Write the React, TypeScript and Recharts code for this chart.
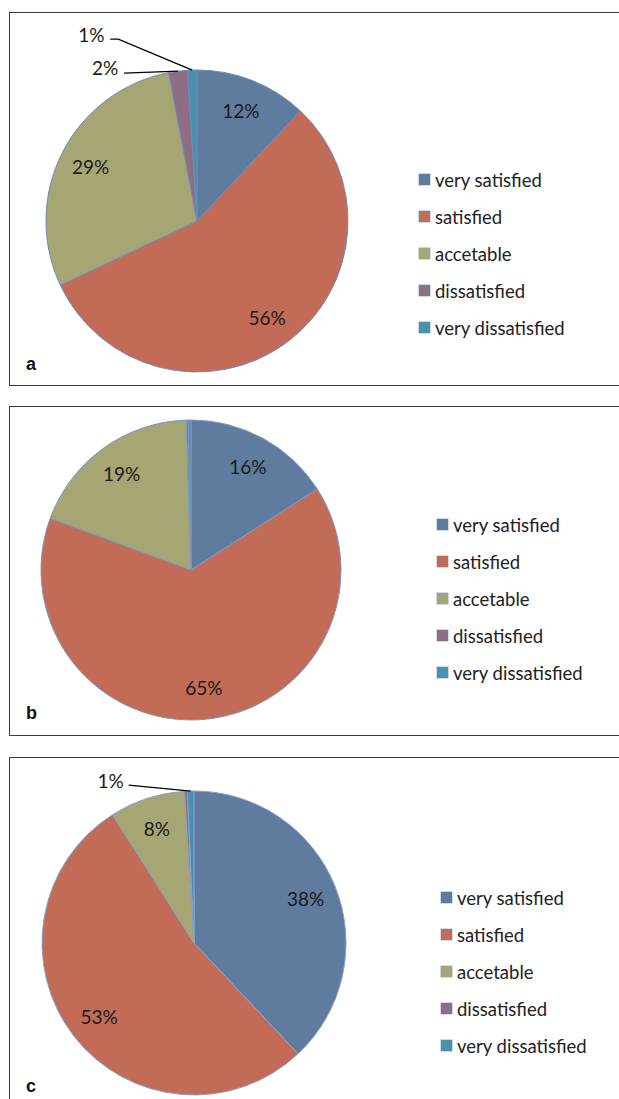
import React from "react";
import { PieChart, Pie, Cell, Legend } from "recharts";

const categories = [
  "very satisfied",
  "satisfied",
  "accetable",
  "dissatisfied",
  "very dissatisfied",
];
const colors = ["#5f7b9e", "#c26b57", "#a5a673", "#8f6d82", "#4a91b0"];

const valuesA = [12, 56, 29, 2, 1];
const labelsA = ["12%", "56%", "29%", "2%", "1%"];

const valuesB = [16, 65, 19, 0.2, 0.3];
const labelsB = ["16%", "65%", "19%", "", ""];

const valuesC = [38, 53, 8, 0.3, 0.7];
const labelsC = ["38%", "53%", "8%", "", "1%"];

const RAD = Math.PI / 180;
const FONT = "Lato, 'Noto Sans', sans-serif";

type Callout = { text: [number, number]; line: [number, number][] };

interface PanelProps {
  tag: string;
  top: number;
  height: number;
  boxTop: number;
  boxHeight: number;
  tagY: number;
  cx: number;
  cy: number;
  r: number;
  values: number[];
  labels: string[];
  legendLeft: number;
  legendTop: number;
  stroke: string;
  callouts: Record<number, Callout>;
}

// keep the legend in the category order, not alphabetical
const LegendList = ({ payload }: any) => {
  const items = [...(payload || [])].sort(
    (a: any, b: any) => categories.indexOf(a.value) - categories.indexOf(b.value)
  );
  return (
    <div style={{ fontFamily: FONT, fontSize: 18.5, color: "#222" }}>
      {items.map((entry: any, i: number) => (
        <div
          key={i}
          style={{ height: 37, display: "flex", alignItems: "center" }}
        >
          <span
            style={{
              width: 11,
              height: 11,
              background: entry.color,
              marginRight: 5,
              boxShadow: "0 0 0 0.5px #9fb3d1",
            }}
          />
          <span>{entry.value}</span>
        </div>
      ))}
    </div>
  );
};

const PiePanel = (p: PanelProps) => {
  const data = categories.map((name, i) => ({ name, value: p.values[i] }));

  const renderLabel = (props: any) => {
    const { cx, cy, midAngle, outerRadius, index } = props;
    const text = p.labels[index];
    if (!text) return null;
    const cos = Math.cos(-midAngle * RAD);
    const sin = Math.sin(-midAngle * RAD);
    const call = p.callouts[index];
    const textStyle = {
      fontFamily: FONT,
      fontSize: 19,
      fill: "#1a1a1a",
    };
    if (call) {
      const sx = cx + outerRadius * cos;
      const sy = cy + outerRadius * sin;
      const pts = [[0, 0] as [number, number], ...call.line]
        .map(([dx, dy]) => `${sx + dx},${sy + dy}`)
        .join(" ");
      return (
        <g key={`lab-${index}`}>
          <polyline points={pts} fill="none" stroke="#000" strokeWidth={1.3} />
          <text
            x={sx + call.text[0]}
            y={sy + call.text[1]}
            textAnchor="middle"
            dominantBaseline="central"
            style={textStyle}
          >
            {text}
          </text>
        </g>
      );
    }
    const rr = outerRadius * 0.79;
    return (
      <text
        key={`lab-${index}`}
        x={cx + rr * cos}
        y={cy + rr * sin}
        textAnchor="middle"
        dominantBaseline="central"
        style={textStyle}
      >
        {text}
      </text>
    );
  };

  return (
    <>
      <div
        style={{
          position: "absolute",
          left: 9,
          top: p.boxTop,
          width: 640,
          height: p.boxHeight,
          border: "1px solid #3c3c3c",
          boxSizing: "border-box",
        }}
      />
      <div style={{ position: "absolute", left: 0, top: p.top }}>
        <PieChart
          width={619}
          height={p.height}
          margin={{ top: 0, right: 0, bottom: 0, left: 0 }}
        >
          <Pie
            data={data}
            dataKey="value"
            nameKey="name"
            cx={p.cx}
            cy={p.cy}
            outerRadius={p.r}
            startAngle={90}
            endAngle={-270}
            stroke={p.stroke}
            strokeWidth={1}
            label={renderLabel}
            labelLine={false}
            isAnimationActive={false}
          >
            {data.map((d, i) => (
              <Cell key={d.name} fill={colors[i]} />
            ))}
          </Pie>
          <Legend
            layout="vertical"
            content={<LegendList />}
            wrapperStyle={{
              position: "absolute",
              left: p.legendLeft,
              top: p.legendTop,
              width: 190,
            }}
          />
        </PieChart>
      </div>
      <div
        style={{
          position: "absolute",
          left: 26,
          top: p.tagY,
          fontFamily: "'Liberation Sans', Arial, sans-serif",
          fontWeight: 700,
          fontSize: 18,
          lineHeight: "18px",
          color: "#111",
        }}
      >
        {p.tag}
      </div>
    </>
  );
};

export default function App() {
  return (
    <div
      style={{
        position: "absolute",
        left: 0,
        top: 0,
        width: 619,
        height: 1099,
        overflow: "hidden",
        background: "#fff",
      }}
    >
      <PiePanel
        tag="a"
        top={0}
        height={395}
        boxTop={12}
        boxHeight={374}
        tagY={355}
        cx={197}
        cy={221}
        r={151}
        values={valuesA}
        labels={labelsA}
        legendLeft={419}
        legendTop={161}
        stroke="#6f8cba"
        callouts={{
          3: { text: [-73, -4], line: [[-54, 2]] },
          4: { text: [-101, -36], line: [[-74, -31], [-82, -31]] },
        }}
      />
      <PiePanel
        tag="b"
        top={395}
        height={355}
        boxTop={406}
        boxHeight={330}
        tagY={704}
        cx={191}
        cy={175}
        r={150}
        values={valuesB}
        labels={labelsB}
        legendLeft={437}
        legendTop={111}
        stroke="#7f97c0"
        callouts={{}}
      />
      <PiePanel
        tag="c"
        top={750}
        height={349}
        boxTop={757}
        boxHeight={400}
        tagY={1077}
        cx={194}
        cy={193}
        r={152}
        values={valuesC}
        labels={labelsC}
        legendLeft={441}
        legendTop={129}
        stroke="#8aa2c8"
        callouts={{
          4: { text: [-80, -11], line: [[-62, -6]] },
        }}
      />
    </div>
  );
}
